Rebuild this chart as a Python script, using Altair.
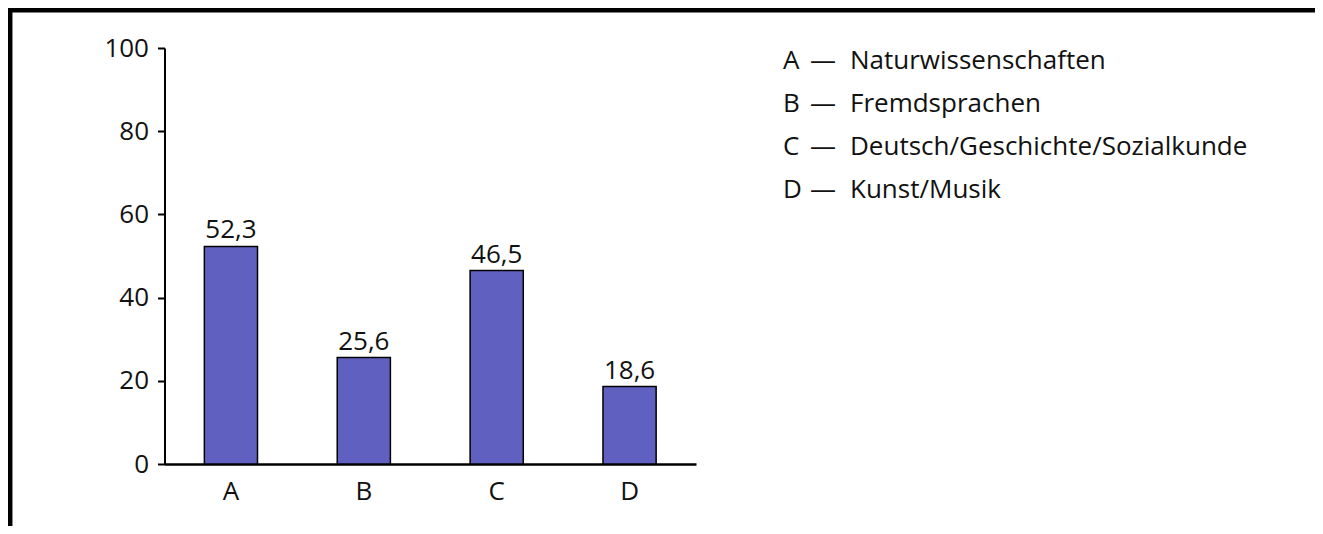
import altair as alt
import pandas as pd

categories = ["A", "B", "C", "D"]
values = [52.3, 25.6, 46.5, 18.6]
value_labels = ["52,3", "25,6", "46,5", "18,6"]
legend_names = ["Naturwissenschaften", "Fremdsprachen",
                "Deutsch/Geschichte/Sozialkunde", "Kunst/Musik"]
y_ticks = [0, 20, 40, 60, 80, 100]

W, H = 1307, 518
FONT = "Open Sans"
BAR_COLOR = "#6060c0"

bars_df = pd.DataFrame({"cat": categories, "value": values, "label": value_labels})
legend_df = pd.DataFrame({"key": categories, "dash": ["—"] * len(categories),
                          "name": legend_names})
one = pd.DataFrame({"f": [0]})

x_scale = alt.Scale(range=[156.5, 688], paddingInner=0.6, paddingOuter=0.3)
x_axis = alt.Axis(orient="bottom", offset=456 - H, labelAngle=0, ticks=False,
                  tickSize=0, labelPadding=14, labelFontSize=26, labelFont=FONT,
                  labelColor="#111", domainColor="#000", domainWidth=2.5)
y_scale = alt.Scale(domain=[0, 100], range=[456, 40], nice=False, zero=True)
y_axis = alt.Axis(orient="left", offset=-156.5, values=y_ticks, grid=False,
                  tickSize=7, tickWidth=2, tickColor="#000", domainColor="#000",
                  domainWidth=2, labelPadding=9, labelFontSize=26, labelFont=FONT,
                  labelColor="#111")

bars = alt.Chart(bars_df).mark_bar(color=BAR_COLOR, stroke="#000", strokeWidth=1.5).encode(
    x=alt.X("cat:N", sort=categories, title=None, scale=x_scale, axis=x_axis),
    y=alt.Y("value:Q", scale=y_scale, title=None, axis=y_axis),
)
labels = alt.Chart(bars_df).mark_text(dy=-8, baseline="alphabetic", fontSize=26, font=FONT,
                                      color="#111").encode(
    x=alt.X("cat:N", sort=categories, title=None, scale=x_scale, axis=x_axis),
    y=alt.Y("value:Q", scale=y_scale, title=None, axis=y_axis),
    text="label:N",
)
plot = alt.layer(bars, labels)

leg_y = alt.Y("key:N", sort=categories, axis=None,
              scale=alt.Scale(type="point", range=[60.5, 189.5], padding=0))


def leg_col(field, xpos):
    return alt.Chart(legend_df).mark_text(align="left", baseline="alphabetic", fontSize=26,
                                          font=FONT, color="#111").encode(
        x=alt.value(xpos), y=leg_y, text=f"{field}:N")


leg1 = leg_col("key", 775)
leg2 = leg_col("dash", 802)
leg3 = leg_col("name", 842)

top_rule = alt.Chart(one).mark_rule(color="#000", strokeWidth=4.5).encode(
    x=alt.value(0), x2=alt.value(W), y=alt.value(2.2))
left_rule = alt.Chart(one).mark_rule(color="#000", strokeWidth=4.5).encode(
    x=alt.value(2.2), y=alt.value(0), y2=alt.value(H))

chart = alt.layer(plot, leg1, leg2, leg3, top_rule, left_rule).resolve_scale(
    y="independent"
).properties(
    width=W, height=H, autosize=alt.AutoSizeParams(type="none"), padding=0,
    background="white"
).configure_view(strokeWidth=0)

chart.save("out.html", embed_options={"renderer": "svg", "actions": False})
